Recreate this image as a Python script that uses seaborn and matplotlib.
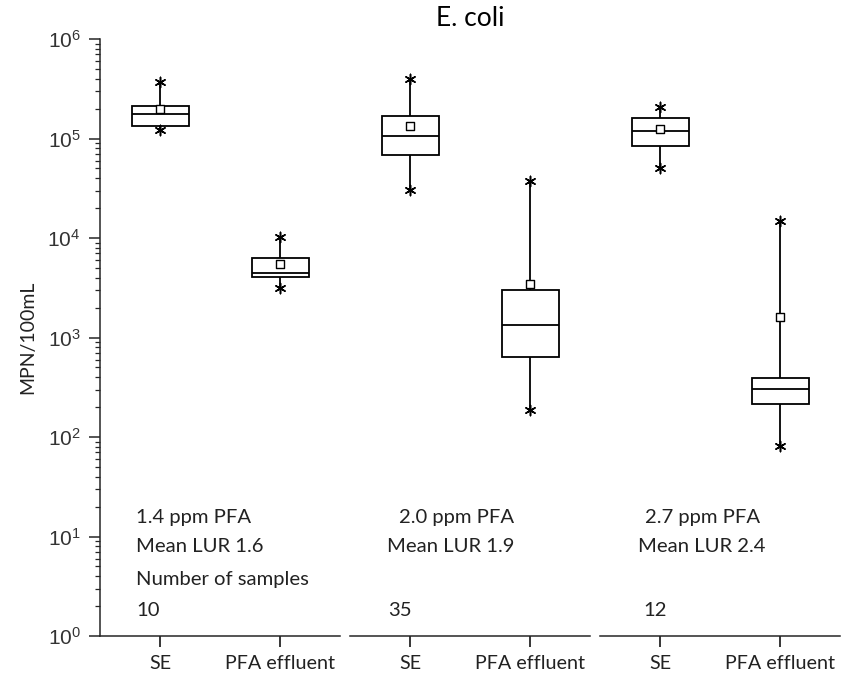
import numpy as np
import pandas as pd
import matplotlib
matplotlib.use("Agg")
import matplotlib.pyplot as plt
from matplotlib.ticker import LogLocator, NullFormatter, FixedLocator, FixedFormatter
import seaborn as sns

# Treatment groups and sample types
dose_labels = ["1.4 ppm PFA", "2.0 ppm PFA", "2.7 ppm PFA"]
lur_labels = ["Mean LUR 1.6", "Mean LUR 1.9", "Mean LUR 2.4"]
n_samples = ["10", "35", "12"]
samples = ["SE", "PFA effluent"]

# E. coli summary statistics (MPN/100mL), per group: [SE, PFA effluent]
v_min = [[1.22e5, 3.17e3], [3.04e4, 1.87e2], [5.0e4, 8.1e1]]
v_q1 = [[1.34e5, 4.08e3], [6.88e4, 6.4e2], [8.5e4, 2.15e2]]
v_med = [[1.78e5, 4.5e3], [1.06e5, 1.34e3], [1.18e5, 3.02e2]]
v_q3 = [[2.14e5, 6.25e3], [1.70e5, 3.0e3], [1.6e5, 3.89e2]]
v_max = [[3.7e5, 1.03e4], [3.92e5, 3.74e4], [2.09e5, 1.48e4]]
v_mean = [[1.96e5, 5.5e3], [1.34e5, 3.45e3], [1.24e5, 1.62e3]]

sns.set_theme(style="ticks")
plt.rcParams["font.family"] = ["Lato", "DejaVu Sans"]
plt.rcParams["axes.linewidth"] = 1.1

W, H = 841, 679
fig = plt.figure(figsize=(W / 100, H / 100), dpi=100)

ax_bottom, ax_top = 636, 39
seg_w, seg_gap, x0 = 240, 10, 100
text_font = 14.6

# Left offset (px within a panel) of each annotation line
text_left = [
    [36, 36, 36, 36],
    [49, 37, None, 38],
    [45, 38, None, 43],
]
text_y = [518, 547, 579, 611]

# three panels sharing one log y-axis
axes = []
for i in range(3):
    left = x0 + i * (seg_w + seg_gap)
    ax = fig.add_axes([left / W, (H - ax_bottom) / H, seg_w / W, (ax_bottom - ax_top) / H],
                      sharey=axes[0] if axes else None)
    if i == 0:
        ax.set_yscale("log")
    axes.append(ax)

for i, ax in enumerate(axes):
    # five-number summary rows: min, q1, median, q3, max
    rows = []
    for j, s in enumerate(samples):
        for v in (v_min[i][j], v_q1[i][j], v_med[i][j], v_q3[i][j], v_max[i][j]):
            rows.append({"sample": s, "value": v})
    df = pd.DataFrame(rows)

    sns.boxplot(data=df, x="sample", y="value", order=samples, ax=ax,
                whis=(0, 100), width=0.475, color="white", saturation=1,
                linecolor="black", linewidth=1.3, showcaps=False, showfliers=False)

    pos = np.arange(len(samples))
    # mean markers
    ax.scatter(pos, v_mean[i], marker="s", s=30, facecolor="white",
               edgecolor="black", linewidths=1.0, zorder=6)
    # min / max markers
    for arr in (v_min[i], v_max[i]):
        ax.scatter(pos, arr, marker=(6, 2, 0), s=55, c="black",
                   linewidths=1.1, zorder=6)

    ax.set_xlim(-0.5, 1.5)
    ax.set_xlabel(None)
    ax.set_ylabel(None)
    ax.xaxis.label.set_visible(False)
    ax.yaxis.label.set_visible(False)
    ax.set_xticks(pos)
    ax.set_xticklabels(samples, fontsize=14.2)
    ax.tick_params(axis="x", direction="out", length=8, width=1.1, pad=6,
                   color="black", labelcolor="#222222")
    sns.despine(ax=ax, left=(i > 0))

    # group annotations
    texts = [dose_labels[i], lur_labels[i], "Number of samples" if i == 0 else None, n_samples[i]]
    for t, lx, ty in zip(texts, text_left[i], text_y):
        if t is None:
            continue
        ax.text(lx / seg_w, (ax_bottom - ty) / (ax_bottom - ax_top), t,
                transform=ax.transAxes, ha="left", va="center",
                fontsize=text_font, color="#222222")

# shared y-axis ticks (decades labelled, minor ticks unlabelled)
ax0 = axes[0]
ax0.set_ylim(1, 1e6)
decades = [10.0 ** k for k in range(0, 7)]
ax0.yaxis.set_major_locator(FixedLocator(decades))
ax0.yaxis.set_major_formatter(FixedFormatter([r"$\mathdefault{10^{%d}}$" % k for k in range(0, 7)]))
minor_vals = [m * 10.0 ** k for k in range(0, 6) for m in range(2, 10)]
ax0.yaxis.set_minor_locator(FixedLocator(minor_vals))
ax0.yaxis.set_minor_formatter(NullFormatter())
ax0.tick_params(axis="y", which="major", direction="out", length=8, width=1.1, pad=6,
                labelsize=15, labelcolor="#333333", labelfontfamily="Liberation Sans")
ax0.tick_params(axis="y", which="minor", direction="out", length=3.5, width=0.9)
for ax in axes[1:]:
    ax.tick_params(axis="y", which="both", left=False, labelleft=False)

fig.text(470 / W, 1 - 19 / H, "E. coli", ha="center", va="center", fontsize=19, color="black")
fig.text(28 / W, 1 - 337 / H, "MPN/100mL", ha="center", va="center", rotation=90,
         fontsize=14, color="#222222")

fig.savefig("out.png", dpi=100)
